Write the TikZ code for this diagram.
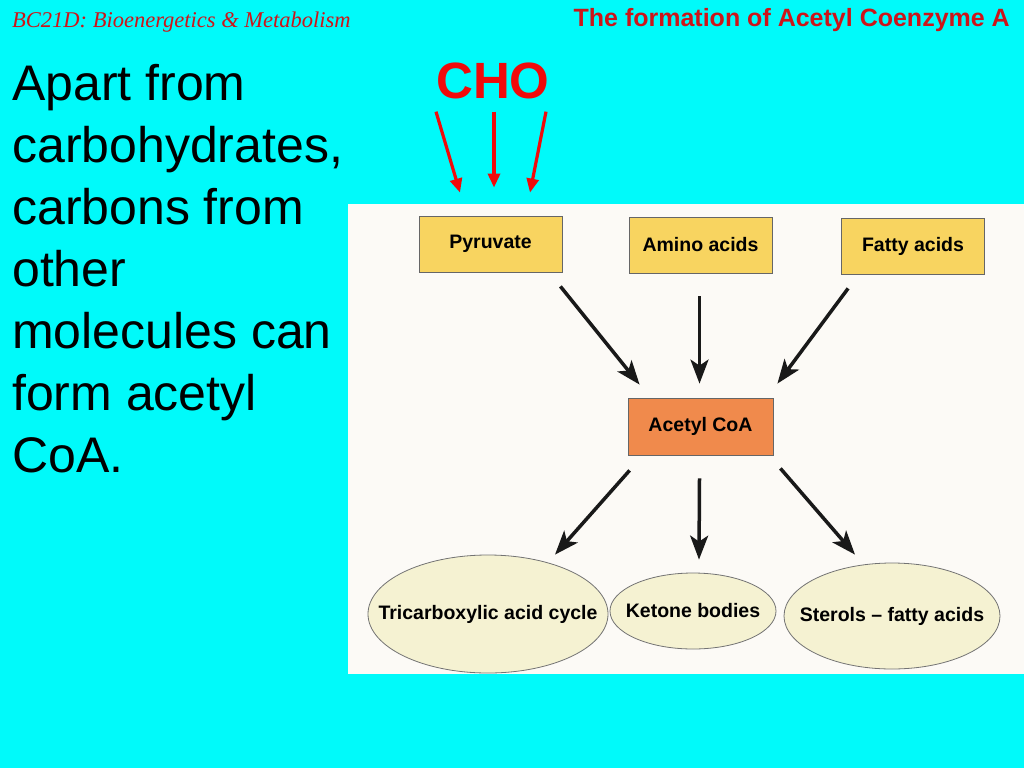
\documentclass[tikz,border=0pt]{standalone}
\usepackage{fontspec}
\setmainfont{Liberation Sans}
\newfontfamily\coursefont{Liberation Serif}
\usetikzlibrary{arrows.meta,shapes.geometric}

\definecolor{slidebg}{RGB}{0,250,250}
\definecolor{paper}{RGB}{252,250,246}
\definecolor{boxyellow}{RGB}{248,212,96}
\definecolor{boxorange}{RGB}{240,138,76}
\definecolor{ovalfill}{RGB}{245,242,210}
\definecolor{titlered}{RGB}{205,20,25}
\definecolor{chored}{RGB}{240,10,10}

\begin{document}
\begin{tikzpicture}[x=1pt, y=-1pt,
      srcbox/.style={draw=black!60, line width=0.8pt, fill=boxyellow,
        minimum width=143pt, minimum height=56pt, inner sep=0pt,
        font=\fontsize{19.5}{22}\selectfont\bfseries},
      hubbox/.style={srcbox, fill=boxorange, minimum width=145pt,
        minimum height=57pt},
      oval/.style={ellipse, draw=black!55, line width=0.8pt, fill=ovalfill,
        inner sep=0pt},
      ovallab/.style={font=\fontsize{19.5}{22}\selectfont\bfseries},
      flow/.style={-{Stealth[length=24pt, width=18pt, inset=6pt]},
        line width=3.5pt, black!90},
      cho/.style={-{Triangle[length=14pt, width=12pt]}, line width=3.2pt,
        chored},
      body/.style={anchor=base west, inner sep=0pt,
        font=\fontsize{50}{62}\selectfont}
    ]
    \useasboundingbox (0,0) rectangle (1024,768);
    \fill[slidebg] (0,0) rectangle (1024,768);

    % slide titles
    \node[anchor=base west, inner sep=0pt, text=titlered,
      font=\fontsize{22.5}{26}\selectfont\coursefont\itshape] (course)
      at (12,28) {BC21D: Bioenergetics \& Metabolism};
    \node[anchor=base east, inner sep=0pt, text=titlered,
      font=\fontsize{25}{30}\selectfont\bfseries] (title)
      at (1010,27) {The formation of Acetyl Coenzyme A};

    % left-hand text
    \foreach \t [count=\i] in {Apart from, {carbohydrates,}, carbons from,
        other, molecules can, form acetyl, CoA.}
      \node[body] (line\i) at (12,100+62*\i-62) {\t};

    % figure panel
    \fill[paper] (348,204) rectangle (1024,674);

    % sources
    \node[srcbox] (pyr)   at (490.5,244) {Pyruvate};
    \node[srcbox] (amino) at (700.5,245) {Amino acids};
    \node[srcbox] (fatty) at (913,246)   {Fatty acids};
    \node[hubbox] (acoa)  at (700.5,426.5) {Acetyl CoA};

    % fates
    \node[oval, minimum width=240pt, minimum height=118pt,
      label={[ovallab]center:Tricarboxylic acid cycle}] (tca) at (488,614) {};
    \node[oval, minimum width=166pt, minimum height=76pt,
      label={[ovallab]center:Ketone bodies}] (keto) at (693,611) {};
    \node[oval, minimum width=216pt, minimum height=106pt,
      label={[ovallab]center:Sterols -- fatty acids}] (sterol) at (892,616) {};

    \draw[flow] (pyr.south east) ++(-2,14) -- ([shift={(12,-13)}]acoa.north west);
    \draw[flow] (amino.south) ++(-1,23) -- ([shift={(-1,-14)}]acoa.north);
    \draw[flow] (fatty.south west) ++(7,14) -- ([shift={(4,-14)}]acoa.north east);
    \draw[flow] (acoa.south west) ++(2,15) -- ([shift={(67,0)}]tca.north);
    \draw[flow] (acoa.south) ++(-1,23) -- ([shift={(6,-13)}]keto.north);
    \draw[flow] (acoa.south east) ++(7,13) -- ([shift={(-37,-8)}]sterol.north);

    % CHO feeding pyruvate
    \node[anchor=base, inner sep=0pt, text=chored,
      font=\fontsize{51}{60}\selectfont\bfseries] (chotxt) at (493,98) {CHO};
    \draw[cho] (chotxt.south) ++(-57,13) -- ([shift={(-30.5,-23)}]pyr.north);
    \draw[cho] (chotxt.south) ++(1,13)   -- ([shift={(3.5,-28)}]pyr.north);
    \draw[cho] (chotxt.south) ++(53,13)  -- ([shift={(39.5,-23)}]pyr.north);
\end{tikzpicture}
\end{document}
